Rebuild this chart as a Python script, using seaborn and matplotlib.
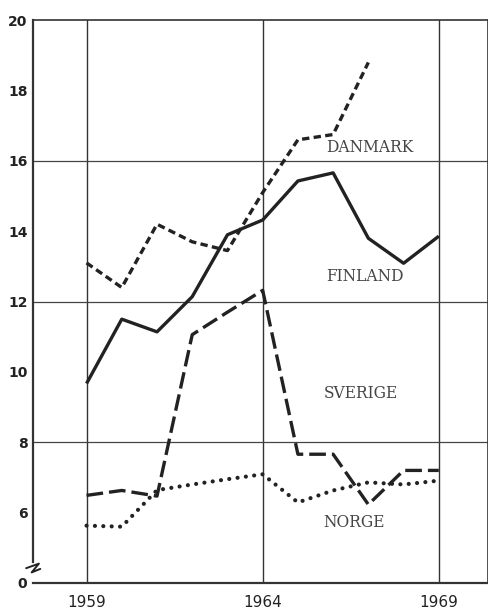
import pandas as pd
import numpy as np
import matplotlib
matplotlib.use('Agg')
import matplotlib.pyplot as plt
import matplotlib.transforms as mtransforms
import seaborn as sns

# data
years = list(range(1959, 1970))
danmark_years = list(range(1959, 1968))
danmark = [13.1, 12.4, 14.2, 13.7, 13.45, 15.1, 16.6, 16.75, 18.8]
finland = [9.67, 11.5, 11.14, 12.14, 13.9, 14.32, 15.43, 15.66, 13.8, 13.09, 13.86]
sverige = [6.49, 6.63, 6.47, 11.06, 11.7, 12.32, 7.66, 7.66, 6.23, 7.2, 7.2]
norge = [5.63, 5.6, 6.64, 6.8, 6.95, 7.09, 6.29, 6.63, 6.86, 6.8, 6.91]

ytick_pos = [4, 6, 8, 10, 12, 14, 16, 18, 20]
ytick_labels = ['0', '6', '8', '10', '12', '14', '16', '18', '20']
grid_y = [8, 12, 16]
grid_x = [1959, 1964, 1969]

# country labels (text, x, y)
labels = [('DANMARK', 1967.05, 16.37), ('FINLAND', 1966.9, 12.72),
          ('SVERIGE', 1966.8, 9.4), ('NORGE', 1966.6, 5.73)]

df = pd.concat([
    pd.DataFrame({'year': danmark_years, 'value': danmark, 'land': 'DANMARK'}),
    pd.DataFrame({'year': years, 'value': finland, 'land': 'FINLAND'}),
    pd.DataFrame({'year': years, 'value': sverige, 'land': 'SVERIGE'}),
])
df_norge = pd.DataFrame({'year': years, 'value': norge, 'land': 'NORGE'})

sns.set_style('white')
plt.rcParams['font.family'] = ['DejaVu Sans']

fig = plt.figure(figsize=(4.89, 6.13), dpi=100)
ax = fig.add_axes([0.0675, 0.049, 0.930, 0.918])

ink = '#222222'
for gx in grid_x:
    ax.axvline(gx, color='#333333', lw=1.0, zorder=1)
for gy in grid_y:
    ax.axhline(gy, color='#444444', lw=0.9, zorder=1)

dash_map = {'DANMARK': (2.2, 1.3), 'FINLAND': '', 'SVERIGE': (5.0, 1.8)}
sns.lineplot(data=df, x='year', y='value', style='land', dashes=dash_map,
             color=ink, lw=2.4, legend=False, ax=ax, zorder=3)
# norge: round dots
sns.lineplot(data=df_norge, x='year', y='value', color=ink, lw=3.0,
             dashes=False, legend=False, ax=ax, zorder=3)
ax.lines[-1].set_dashes((0.01, 2.0))
for line in ax.lines[-4:]:
    line.set_solid_capstyle('butt')
ax.lines[-1].set_dash_capstyle('round')

for txt, x, y in labels:
    ax.text(x, y, txt, family='DejaVu Serif', fontsize=11.2, color='#444444',
            ha='center', va='center')

ax.set_xlim(1957.48, 1970.39)
ax.set_ylim(4, 20)
ax.set_xlabel('')
ax.set_ylabel('')

ax.set_yticks(ytick_pos)
ax.set_yticklabels(ytick_labels, fontsize=10, fontweight='bold')
ax.tick_params(axis='y', direction='in', length=7, width=1.2, pad=4, colors=ink)

ax.set_xticks(grid_x)
ax.set_xticklabels([str(g) for g in grid_x], fontsize=11)
ax.set_xticks([1960, 1961, 1962, 1963, 1965, 1966, 1967, 1968], minor=True)
ax.tick_params(axis='x', which='major', length=0, pad=9, colors=ink)
ax.tick_params(axis='x', which='minor', direction='in', length=3, width=1, colors=ink)

for s in ax.spines.values():
    s.set_visible(True)
    s.set_color('#333333')
    s.set_linewidth(1.2)
ax.spines['left'].set_linewidth(1.6)
ax.spines['bottom'].set_linewidth(1.6)
ax.spines['left'].set_bounds(4.6, 20)

# axis break mark
trans = mtransforms.blended_transform_factory(ax.transAxes, ax.transData)
ax.plot([-0.015, 0.013, -0.003, 0.016], [4.42, 4.55, 4.3, 4.4], color=ink,
        lw=1.4, transform=trans, clip_on=False)

fig.savefig('out.png', dpi=100)
